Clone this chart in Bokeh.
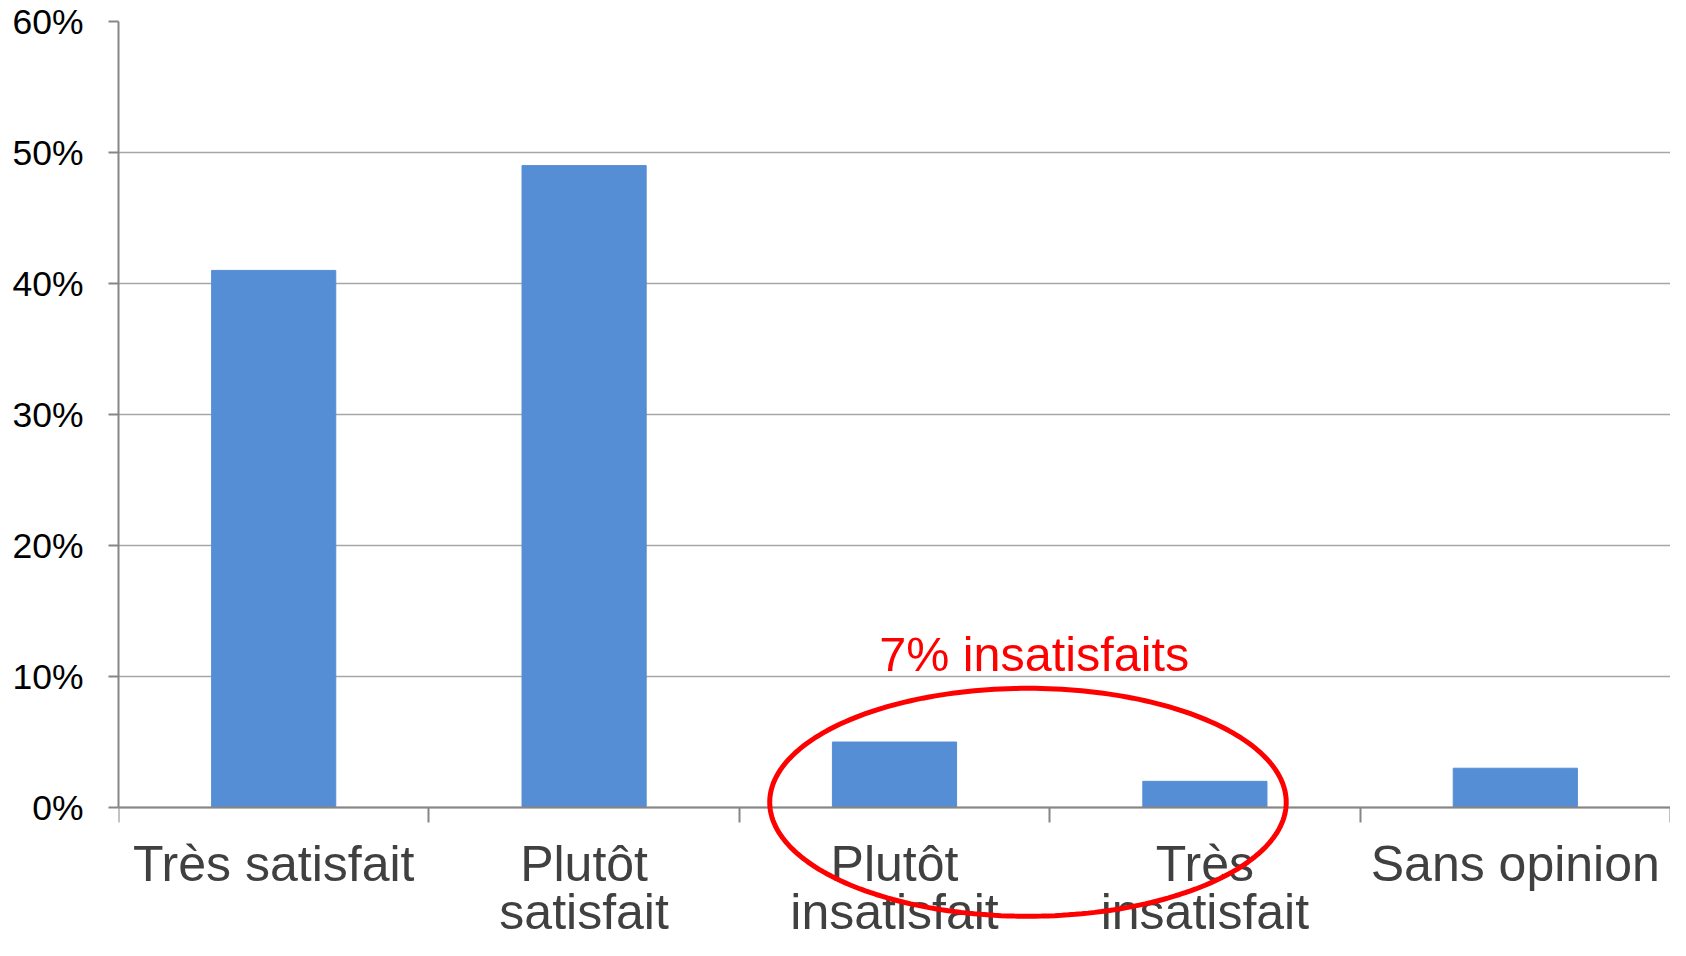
import numpy as np
from bokeh.plotting import figure
from bokeh.models import (Range1d, LinearAxis, FixedTicker, NumeralTickFormatter,
                          PolyAnnotation, Label)
from bokeh.embed import file_html
from bokeh.resources import INLINE

categories = ["Très satisfait", "Plutôt\nsatisfait", "Plutôt\ninsatisfait",
              "Très\ninsatisfait", "Sans opinion"]
values = [0.41, 0.49, 0.05, 0.02, 0.03]
y_ticks = [0, 0.1, 0.2, 0.3, 0.4, 0.5, 0.6]
annotation_text = "7% insatisfaits"

positions = [i + 0.5 for i in range(len(categories))]
boundaries = list(range(len(categories) + 1))

FONT = "Liberation Sans"
AXIS_GRAY = "#868686"

# frame extends to the bottom of the figure so the ellipse is not clipped;
# the value axis only spans 0..60 %
p = figure(width=1670, height=940, x_range=Range1d(0, len(categories)),
           y_range=Range1d(-0.1015, 0.6), output_backend="svg",
           toolbar_location=None, x_axis_type=None,
           min_border_left=118, min_border_right=0,
           min_border_top=21, min_border_bottom=0)
p.outline_line_color = None
p.background_fill_color = "white"

p.vbar(x=positions, top=values, width=0.4, fill_color="#558ED5", line_color="#558ED5")

# y axis
yax = p.yaxis[0]
yax.ticker = FixedTicker(ticks=y_ticks)
yax.bounds = (0, 0.6)
yax.formatter = NumeralTickFormatter(format="0%")
yax.major_label_text_font = FONT
yax.major_label_text_font_size = "35.5px"
yax.major_label_text_color = "black"
yax.major_tick_out = 10
yax.major_tick_in = 0
yax.minor_tick_line_color = None
yax.axis_line_color = AXIS_GRAY
yax.axis_line_width = 2
yax.major_tick_line_color = AXIS_GRAY
yax.major_tick_line_width = 2
yax.major_label_standoff = 25

p.ygrid.grid_line_color = "#A6A6A6"
p.ygrid.grid_line_width = 1.5

# x axis at y = 0: tick marks at category boundaries
tick_axis = LinearAxis(ticker=FixedTicker(ticks=boundaries), fixed_location=0,
                       major_label_overrides={b: "" for b in boundaries},
                       major_tick_out=15, major_tick_in=0,
                       minor_tick_line_color=None,
                       axis_line_color=AXIS_GRAY, axis_line_width=2,
                       major_tick_line_color=AXIS_GRAY, major_tick_line_width=2,
                       major_label_standoff=0, major_label_text_font_size="1px")
# category labels at centres
label_axis = LinearAxis(ticker=FixedTicker(ticks=positions), fixed_location=0,
                        major_label_overrides=dict(zip(positions, categories)),
                        axis_line_color=None, major_tick_line_color=None,
                        major_tick_out=0, major_tick_in=0,
                        minor_tick_line_color=None,
                        major_label_text_font=FONT,
                        major_label_text_font_size="50px",
                        major_label_text_color="#404040",
                        major_label_standoff=28,
                        major_label_text_line_height=0.87)
p.add_layout(tick_axis, "below")
p.add_layout(label_axis, "below")

# red ellipse highlighting the unsatisfied
ell_cx, ell_cy, ell_a, ell_b = 2.93, 0.004, 0.832, 0.087
t = np.linspace(0, 2 * np.pi, 241)
ell = PolyAnnotation(xs=list(ell_cx + ell_a * np.cos(t)),
                     ys=list(ell_cy + ell_b * np.sin(t)),
                     fill_color=None, line_color="#FF0000", line_alpha=1.0,
                     line_width=5)
p.add_layout(ell)

lab = Label(x=2.95, y=0.117, text=annotation_text, text_align="center",
            text_baseline="alphabetic", text_color="#FF0000",
            text_font=FONT, text_font_size="48.5px")
p.add_layout(lab)

open("out.html", "w").write(file_html(p, INLINE))
